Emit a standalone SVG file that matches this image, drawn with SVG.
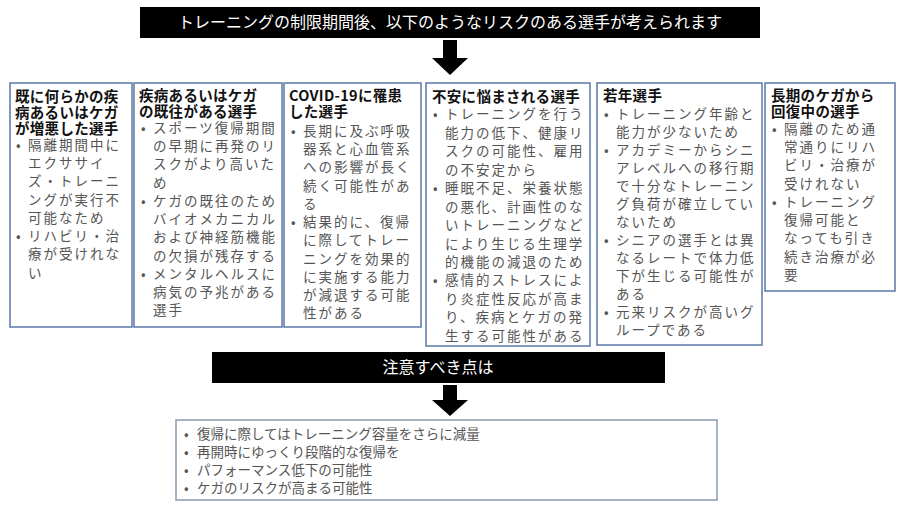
<svg xmlns="http://www.w3.org/2000/svg" width="900" height="506" viewBox="0 0 900 506">
<style>
text{font-family:"Noto Sans CJK JP","Liberation Sans",sans-serif}
.box{fill:#fff;stroke:#5a78a8;stroke-width:1.5}
.ban{fill:#000}
.bt{fill:#fff;font-size:16px;text-anchor:middle}
.ti{font-size:14.5px;font-weight:bold;fill:#111;letter-spacing:0.3px}
.tx{font-size:13.5px;fill:#555;letter-spacing:2px}
.bu{font-size:13.5px;fill:#555}
.ar{fill:#000}
</style>
<g id="banner-top"><rect class="ban" x="140" y="7" width="620" height="31"/><text class="bt" x="450" y="28">トレーニングの制限期間後、以下のようなリスクのある選手が考えられます</text></g>
<g id="connectors">
<polygon class="ar" points="443,40 457,40 457,58 468,58 450,75 432,58 443,58"/>
<polygon class="ar" points="443,385 457,385 457,400 468,400 450,416 432,400 443,400"/>
</g>
<g id="box1"><rect class="box" x="10" y="83" width="122" height="244"/>
<text class="ti" x="15" y="102">既に何らかの疾</text><text class="ti" x="15" y="118">病あるいはケガ</text><text class="ti" x="15" y="134">が増悪した選手</text>
<text class="bu" x="16" y="150">•</text><text class="bu" x="16" y="241">•</text>
<g class="tx"><text x="28" y="150">隔離期間中に</text><text x="28" y="168">エクササイ</text><text x="28" y="186">ズ・トレーニ</text><text x="28" y="205">ングが実行不</text><text x="28" y="223">可能なため</text><text x="28" y="241">リハビリ・治</text><text x="28" y="259">療が受けれな</text><text x="28" y="278">い</text></g>
</g>
<g id="box2"><rect class="box" x="134" y="83" width="148" height="244"/>
<text class="ti" x="139" y="101">疾病あるいはケガ</text><text class="ti" x="139" y="117">の既往がある選手</text>
<text class="bu" x="141" y="133">•</text><text class="bu" x="141" y="206">•</text><text class="bu" x="141" y="279">•</text>
<g class="tx"><text x="153" y="133">スポーツ復帰期間</text><text x="153" y="151">の早期に再発のリ</text><text x="153" y="169">スクがより高いた</text><text x="153" y="188">め</text><text x="153" y="206">ケガの既往のため</text><text x="153" y="224">バイオメカニカル</text><text x="153" y="242">および神経筋機能</text><text x="153" y="261">の欠損が残存する</text><text x="153" y="279">メンタルヘルスに</text><text x="153" y="297">病気の予兆がある</text><text x="153" y="315">選手</text></g>
</g>
<g id="box3"><rect class="box" x="284" y="83" width="137" height="244"/>
<text class="ti" x="289" y="101">COVID-19に罹患</text><text class="ti" x="289" y="117">した選手</text>
<text class="bu" x="291" y="136">•</text><text class="bu" x="291" y="227">•</text>
<g class="tx"><text x="303" y="136">長期に及ぶ呼吸</text><text x="303" y="154">器系と心血管系</text><text x="303" y="172">への影響が長く</text><text x="303" y="191">続く可能性があ</text><text x="303" y="209">る</text><text x="303" y="227">結果的に、復帰</text><text x="303" y="245">に際してトレー</text><text x="303" y="264">ニングを効果的</text><text x="303" y="282">に実施する能力</text><text x="303" y="300">が減退する可能</text><text x="303" y="318">性がある</text></g>
</g>
<g id="box4"><rect class="box" x="426" y="83" width="164" height="263"/>
<text class="ti" x="432" y="102">不安に悩まされる選手</text>
<text class="bu" x="433" y="119">•</text><text class="bu" x="433" y="193">•</text><text class="bu" x="433" y="285">•</text>
<g class="tx"><text x="445" y="119">トレーニングを行う</text><text x="445" y="138">能力の低下、健康リ</text><text x="445" y="156">スクの可能性、雇用</text><text x="445" y="175">の不安定から</text><text x="445" y="193">睡眠不足、栄養状態</text><text x="445" y="212">の悪化、計画性のな</text><text x="445" y="230">いトレーニングなど</text><text x="445" y="249">により生じる生理学</text><text x="445" y="267">的機能の減退のため</text><text x="445" y="285">感情的ストレスによ</text><text x="445" y="304">り炎症性反応が高ま</text><text x="445" y="322">り、疾病とケガの発</text><text x="445" y="341">生する可能性がある</text></g>
</g>
<g id="box5"><rect class="box" x="597" y="83" width="165" height="262"/>
<text class="ti" x="603" y="101">若年選手</text>
<text class="bu" x="604" y="119">•</text><text class="bu" x="604" y="155">•</text><text class="bu" x="604" y="245">•</text><text class="bu" x="604" y="317">•</text>
<g class="tx"><text x="616" y="119">トレーニング年齢と</text><text x="616" y="137">能力が少ないため</text><text x="616" y="155">アカデミーからシニ</text><text x="616" y="173">アレベルへの移行期</text><text x="616" y="191">で十分なトレーニン</text><text x="616" y="209">グ負荷が確立してい</text><text x="616" y="227">ないため</text><text x="616" y="245">シニアの選手とは異</text><text x="616" y="263">なるレートで体力低</text><text x="616" y="281">下が生じる可能性が</text><text x="616" y="299">ある</text><text x="616" y="317">元来リスクが高いグ</text><text x="616" y="335">ループである</text></g>
</g>
<g id="box6"><rect class="box" x="765" y="83" width="130" height="208"/>
<text class="ti" x="771" y="101">長期のケガから</text><text class="ti" x="771" y="117">回復中の選手</text>
<text class="bu" x="772" y="134">•</text><text class="bu" x="772" y="207">•</text>
<g class="tx"><text x="784" y="134">隔離のため通</text><text x="784" y="152">常通りにリハ</text><text x="784" y="170">ビリ・治療が</text><text x="784" y="189">受けれない</text><text x="784" y="207">トレーニング</text><text x="784" y="225">復帰可能と</text><text x="784" y="243">なっても引き</text><text x="784" y="262">続き治療が必</text><text x="784" y="280">要</text></g>
</g>
<g id="banner-mid"><rect class="ban" x="212" y="352" width="453" height="31"/><text class="bt" x="438" y="373">注意すべき点は</text></g>
<g id="box-bottom"><rect class="box" x="176" y="420" width="541" height="80" style="stroke:#8a9ab3"/>
<g class="bu"><text x="184" y="439">•</text><text x="184" y="457">•</text><text x="184" y="475">•</text><text x="184" y="493">•</text></g>
<g class="bu"><text x="197" y="439">復帰に際してはトレーニング容量をさらに減量</text><text x="197" y="457">再開時にゆっくり段階的な復帰を</text><text x="197" y="475">パフォーマンス低下の可能性</text><text x="197" y="493">ケガのリスクが高まる可能性</text></g>
</g>
</svg>
